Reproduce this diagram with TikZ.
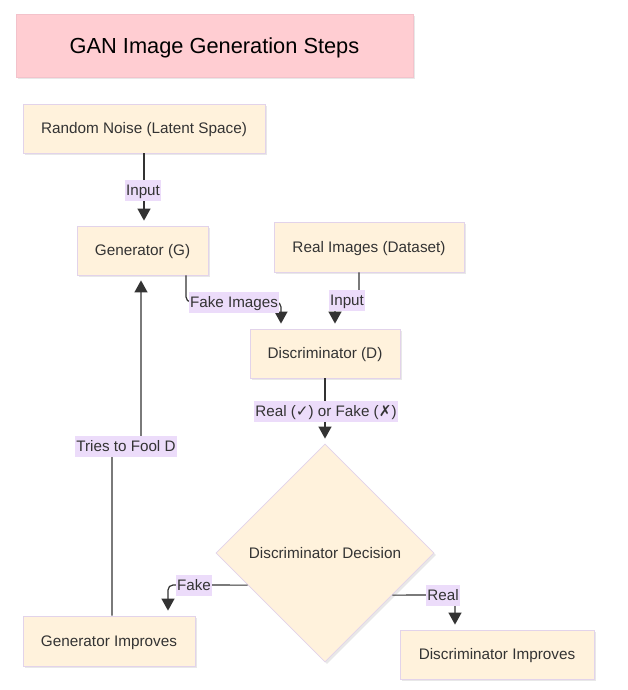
\documentclass[tikz,border=0pt]{standalone}
\usepackage{fontspec}
\setmainfont{Liberation Sans}
\newfontfamily\symfont{DejaVu Sans}
\usetikzlibrary{shapes.geometric,arrows.meta,shadows,calc}
\definecolor{boxfill}{HTML}{FFF2DC}
\definecolor{boxdraw}{HTML}{E2D3EA}
\definecolor{titlefill}{HTML}{FFCDD2}
\definecolor{titledraw}{HTML}{F3C2CB}
\definecolor{lblfill}{HTML}{ECDCFA}
\definecolor{ink}{HTML}{333333}
\begin{document}
\begin{tikzpicture}[x=1pt,y=-1pt,
  box/.style={draw=boxdraw, fill=boxfill, line width=0.8pt, text=ink,
    font=\fontsize{15.3}{18}\selectfont, inner sep=0pt, text height=10.9pt, text depth=0pt,
    drop shadow={shadow xshift=2pt,shadow yshift=-2pt,opacity=0.18}},
  lbl/.style={fill=lblfill, text=ink, font=\fontsize{15.2}{18}\selectfont,
    inner xsep=1pt, inner ysep=0pt, text height=10.9pt, text depth=0pt, minimum height=21pt},
  edge/.style={draw=ink, line width=1.2pt, -{Triangle[width=13pt,length=12pt]},
    shorten >=5pt, rounded corners=5pt}]
\fill[white] (0,0) rectangle (627,690);
\useasboundingbox (0,0) rectangle (627,690);

\node[box, fill=titlefill, draw=titledraw, text=black, font=\fontsize{21.8}{26}\selectfont,
  text height=15.6pt, minimum width=397pt, minimum height=63pt] (title) at (214.5,45.5) {GAN Image Generation Steps};

\node[box, minimum width=242pt, minimum height=49pt] (noise) at (144,128.5) {Random Noise (Latent Space)};
\node[box, minimum width=131pt, minimum height=49pt] (gen) at (142.5,250.5) {Generator (G)};
\node[box, minimum width=190pt, minimum height=50pt] (real) at (369,247) {Real Images (Dataset)};
\node[box, minimum width=150pt, minimum height=49pt] (disc) at (325,353.5) {Discriminator (D)};
\node[box, shape=diamond, aspect=1, minimum width=218pt, minimum height=218pt] (dia) at (325,553) {Discriminator Decision};
\node[box, minimum width=172pt, minimum height=50pt] (genimp) at (109,641) {Generator Improves};
\node[box, minimum width=194pt, minimum height=49pt] (discimp) at (497,654.5) {Discriminator Improves};

% edges
\draw[edge] (noise.south) -- (noise.south |- gen.north);
\draw[edge] ([xshift=43.5pt]gen.south) -- (186,302) -- (281,302) -- ([xshift=-44pt]disc.north);
\draw[edge] ([xshift=-10pt]real.south) -- (359,300) -- (335,300) -- ([xshift=10pt]disc.north);
\draw[edge] (disc.south) -- (dia.north);
\coordinate (fk) at ($(dia.west)!0.2936!(dia.south)$);
\coordinate (rl) at ($(dia.east)!0.385!(dia.south)$);
\draw[edge] (fk) -- (168,585) -- ([xshift=59pt]genimp.north);
\draw[edge] (rl) -- (455,595) -- ([xshift=-42pt]discimp.north);
\draw[edge] ([xshift=3pt]genimp.north) -- (112,446) -- (141,446) -- ([xshift=-1.5pt]gen.south);

% labels
\node[lbl] (l1) at (143,190) {Input};
\node[lbl] (l2) at (234,302) {Fake Images};
\node[lbl] (l3) at (347,300) {Input};
\node[lbl] (l4) at (326,411) {Real ({\symfont\bfseries ✓}) or Fake ({\symfont\bfseries ✗})};
\node[lbl] (l5) at (126,446) {Tries to Fool D};
\node[lbl] (l6) at (194,585) {Fake};
\node[lbl] (l7) at (443,595) {Real};
\end{tikzpicture}
\end{document}
